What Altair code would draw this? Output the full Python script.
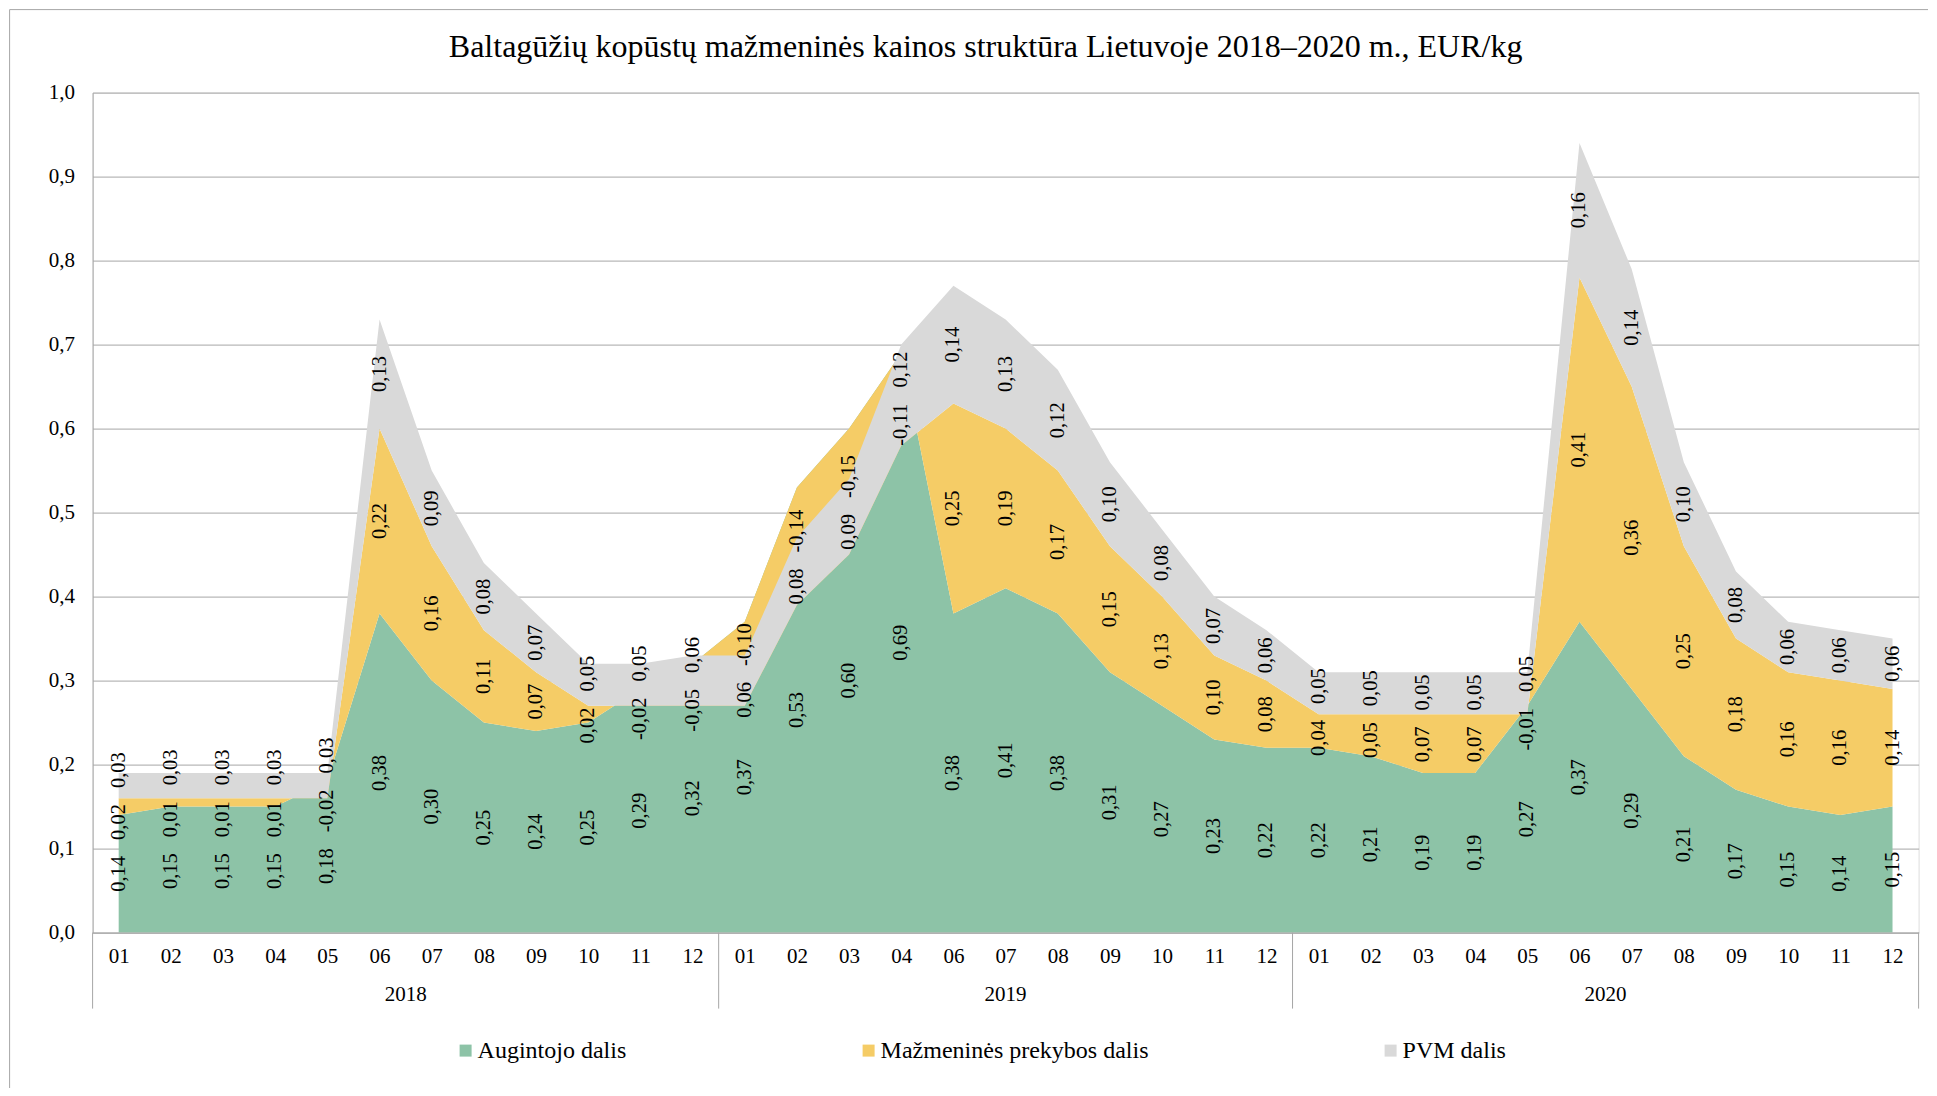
import json
import altair as alt
import pandas as pd

# ---------------- data ----------------
years = ["2018", "2019", "2020"]
months_2018 = ["01", "02", "03", "04", "05", "06", "07", "08", "09", "10", "11", "12"]
months_2019 = ["01", "02", "03", "04", "06", "07", "08", "09", "10", "11", "12"]
months_2020 = ["01", "02", "03", "04", "05", "06", "07", "08", "09", "10", "11", "12"]

augintojo = [0.14, 0.15, 0.15, 0.15, 0.18, 0.38, 0.30, 0.25, 0.24, 0.25, 0.29, 0.32,
             0.37, 0.53, 0.60, 0.69, 0.38, 0.41, 0.38, 0.31, 0.27, 0.23, 0.22,
             0.22, 0.21, 0.19, 0.19, 0.27, 0.37, 0.29, 0.21, 0.17, 0.15, 0.14, 0.15]
mazmenine = [0.02, 0.01, 0.01, 0.01, -0.02, 0.22, 0.16, 0.11, 0.07, 0.02, -0.02, -0.05,
             -0.10, -0.14, -0.15, -0.11, 0.25, 0.19, 0.17, 0.15, 0.13, 0.10, 0.08,
             0.04, 0.05, 0.07, 0.07, -0.01, 0.41, 0.36, 0.25, 0.18, 0.16, 0.16, 0.14]
pvm = [0.03, 0.03, 0.03, 0.03, 0.03, 0.13, 0.09, 0.08, 0.07, 0.05, 0.05, 0.06,
       0.06, 0.08, 0.09, 0.12, 0.14, 0.13, 0.12, 0.10, 0.08, 0.07, 0.06,
       0.05, 0.05, 0.05, 0.05, 0.05, 0.16, 0.14, 0.10, 0.08, 0.06, 0.06, 0.06]

series_names = ["Augintojo dalis", "Mažmeninės prekybos dalis", "PVM dalis"]
series_colors = ["#8DC3A7", "#F5CC66", "#D9D9D9"]

title_text = "Baltagūžių kopūstų mažmeninės kainos struktūra Lietuvoje 2018–2020 m., EUR/kg"

# ---------------- layout constants ----------------
W, H = 1826, 840
FONT = "'Liberation Serif', 'Times New Roman', Times, 'DejaVu Serif', serif"
FS = 21
FS_LAB = 20.5
FS_LEG = 24
GRAY = "#A6A6A6"

month_groups = [months_2018, months_2019, months_2020]
month_labels = [m for g in month_groups for m in g]
n = len(month_labels)

# ---------------- tables ----------------
area_rows = []
label_rows = []
values = [augintojo, mazmenine, pvm]


def text_width(s):
    w = 0.0
    for ch in s:
        if ch.isdigit():
            w += 0.5
        elif ch == ",":
            w += 0.25
        else:
            w += 0.333
    return w * FS_LAB


for i in range(n):
    cum = [0.0]
    for v in values:
        cum.append(round(cum[-1] + v[i], 4))
    items = []
    for k, name in enumerate(series_names):
        area_rows.append({"idx": i, "series": name, "lo": cum[k], "hi": cum[k + 1]})
        lab = f"{values[k][i]:.2f}".replace(".", ",")
        mid = (cum[k] + cum[k + 1]) / 2 * H  # pixels from bottom
        items.append([mid, text_width(lab) / 2, lab, name])
    # simple overlap resolution of the vertical labels
    items.sort(key=lambda t: t[0])
    gap = 16
    for _ in range(200):
        for a in range(len(items) - 1):
            need = items[a][1] + items[a + 1][1] + gap
            d = items[a + 1][0] - items[a][0]
            if d < need:
                sh = (need - d) / 2
                items[a][0] -= sh
                items[a + 1][0] += sh
    for pos, _, lab, name in items:
        label_rows.append({"idx": i, "pos": pos / H, "label": lab, "series": name})

area_df = pd.DataFrame(area_rows)
label_df = pd.DataFrame(label_rows)

# year groups
bounds = [-0.5]
centers = []
start = 0
for g in month_groups:
    centers.append(start + (len(g) - 1) / 2)
    start += len(g)
    bounds.append(start - 0.5)
year_df = pd.DataFrame({"year": years, "center": centers})
sep_df = pd.DataFrame({"b": bounds})

# ---------------- scales / axes ----------------
xscale = alt.Scale(domain=[-0.5, n - 0.5], nice=False, zero=False)
yscale = alt.Scale(domain=[0, 1], nice=False)

xaxis = alt.Axis(
    values=list(range(n)),
    labelExpr=f"{json.dumps(month_labels)}[datum.value]",
    title=None, ticks=False, tickSize=0, grid=False,
    domainColor=GRAY, domainWidth=1,
    labelFont=FONT, labelFontSize=FS, labelColor="black",
    labelPadding=24, labelBaseline="middle", labelAngle=0,
    labelOverlap=False, labelFlush=False, zindex=1,
)
yaxis = alt.Axis(
    values=[round(v * 0.1, 1) for v in range(11)],
    labelExpr="replace(format(datum.value, '.1f'), '.', ',')",
    title=None, ticks=False, tickSize=0, grid=True,
    gridColor=GRAY, gridWidth=1, domainColor=GRAY, domainWidth=1,
    labelFont=FONT, labelFontSize=FS, labelColor="black",
    labelPadding=18, labelBaseline="middle",
)

color = alt.Color(
    "series:N",
    scale=alt.Scale(domain=series_names, range=series_colors),
    legend=alt.Legend(
        title=None, orient="none", direction="horizontal",
        legendX=361, legendY=946,
        symbolType="square", symbolSize=144, symbolStrokeWidth=0,
        labelFont=FONT, labelFontSize=FS_LEG, labelColor="black",
        labelOffset=0, columnPadding=230, padding=0, labelLimit=0,
    ),
)

layers = []
for name in series_names:
    layers.append(
        alt.Chart(area_df[area_df.series == name])
        .mark_area(interpolate="linear", opacity=1, strokeWidth=0)
        .encode(
            x=alt.X("idx:Q", scale=xscale, axis=xaxis),
            y=alt.Y("lo:Q", scale=yscale, axis=yaxis),
            y2="hi:Q",
            color=color,
        )
    )

labels = (
    alt.Chart(label_df)
    .mark_text(angle=270, font=FONT, fontSize=FS_LAB, color="black",
               align="center", baseline="middle")
    .encode(
        x=alt.X("idx:Q", scale=xscale, axis=xaxis),
        y=alt.Y("pos:Q", scale=yscale, axis=yaxis),
        text="label:N",
    )
)

year_text = (
    alt.Chart(year_df)
    .mark_text(font=FONT, fontSize=FS, color="black", align="center", baseline="middle")
    .encode(
        x=alt.X("center:Q", scale=xscale, axis=xaxis),
        y=alt.value(H + 62),
        text="year:N",
    )
)

separators = (
    alt.Chart(sep_df)
    .mark_rule(color=GRAY, strokeWidth=1)
    .encode(
        x=alt.X("b:Q", scale=xscale, axis=xaxis),
        y=alt.value(H),
        y2=alt.value(H + 76),
    )
)

frame_top = alt.Chart(pd.DataFrame({"a": [0]})).mark_rule(color=GRAY, strokeWidth=1).encode(
    x=alt.value(-83), x2=alt.value(W + 20), y=alt.value(-83)
)
frame_left = alt.Chart(pd.DataFrame({"a": [0]})).mark_rule(color=GRAY, strokeWidth=1).encode(
    x=alt.value(-83), y=alt.value(-83), y2=alt.value(H + 170)
)

chart = (
    alt.layer(*layers, labels, year_text, separators, frame_top, frame_left)
    .properties(
        width=W,
        height=H,
        padding={"left": 84.6, "top": 84.6, "right": 9.4, "bottom": 155.4},
        autosize=alt.AutoSizeParams(type="none"),
        title=alt.TitleParams(
            text=title_text, font=FONT, fontSize=32, fontWeight="normal",
            color="black", anchor="middle", frame="group", offset=-55, dx=-20,
        ),
    )
    .configure_view(stroke=None)
    .configure(background="white")
)

chart.save("out.html", embed_options={"renderer": "svg", "actions": False})
